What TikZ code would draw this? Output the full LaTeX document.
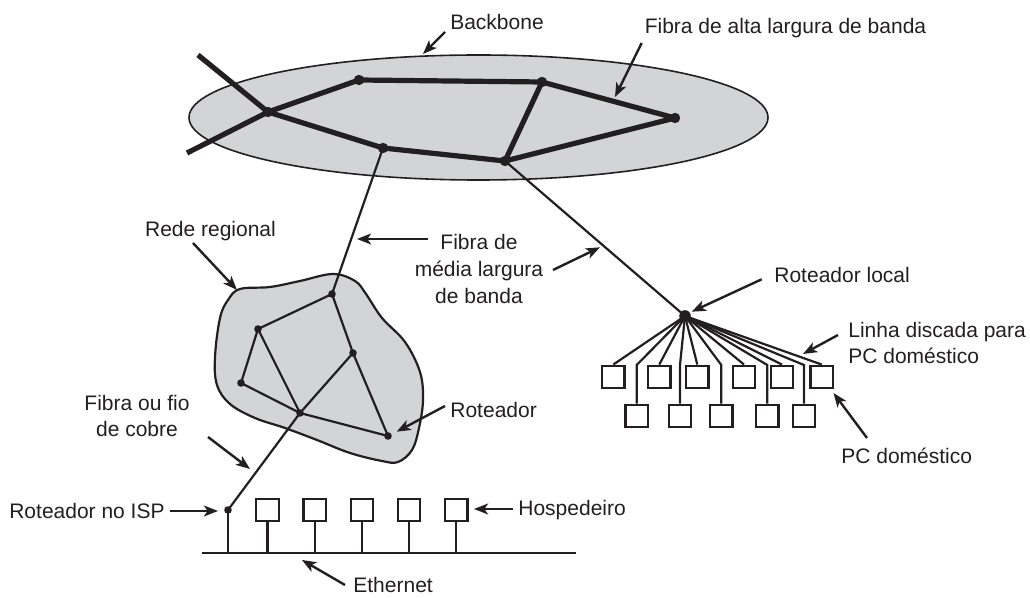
\documentclass[tikz,border=0pt]{standalone}
\usepackage{fontspec}
\setmainfont{Liberation Sans}
\usetikzlibrary{arrows.meta,shapes.geometric}
\definecolor{ink}{RGB}{35,31,32}
\definecolor{cloud}{RGB}{211,212,214}

\begin{document}
\begin{tikzpicture}[
  x=0.5pt, y=-0.5pt,
  every node/.style={font=\fontsize{10.5}{13.3}\selectfont, text=ink},
  lbl/.style={inner sep=0pt, align=center},
  bbdot/.style={circle, fill=ink, inner sep=0pt, minimum size=5.2pt},
  rgdot/.style={circle, fill=ink, inner sep=0pt, minimum size=3.8pt},
  pcbox/.style={draw=ink, line width=1.15pt, fill=white, inner sep=0pt, minimum size=11.3pt},
  fat/.style={line width=2.6pt, draw=ink, line join=round},
  wire/.style={line width=1.1pt, draw=ink},
  callout/.style={-{Stealth[length=7pt,width=5.4pt,inset=1.8pt]}, line width=1.2pt, draw=ink}]
\useasboundingbox (0,0) rectangle (1030,598);

% backbone
\node[ellipse, draw=ink, line width=0.8pt, fill=cloud, minimum width=289.5pt, minimum height=62.5pt, inner sep=0pt] (bbone) at (478.5,117.5) {};
\node[bbdot] (bb1) at (268,112) {};
\node[bbdot] (bb2) at (359,80) {};
\node[bbdot] (bb3) at (542,82) {};
\node[bbdot] (bb4) at (675,118) {};
\node[bbdot] (bb5) at (383,148) {};
\node[bbdot] (bb6) at (505,161) {};
\coordinate (bbx1) at (198,55);
\coordinate (bbx2) at (187,153);
\draw[fat] (bbx1) -- (bb1.center) -- (bb2.center) -- (bb3.center) -- (bb4.center) -- (bb6.center) -- (bb5.center) -- (bb1.center) -- (bbx2);
\draw[fat] (bb3.center) -- (bb6.center);

% rede regional
\draw[ink, line width=1.1pt, fill=cloud] plot[smooth cycle, tension=0.6] coordinates {
  (240,289) (270,287) (300,281) (333,274) (355,281) (366,294) (382,318) (405,342)
  (420,372) (423,400) (419,428) (412,450) (398,462) (382,461) (350,453) (317,440)
  (285,428) (255,418) (230,404) (217,385) (215,357) (220,318) (228,300)};
\node[rgdot] (rg1) at (332,294) {};
\node[rgdot] (rg2) at (258,329) {};
\node[rgdot] (rg3) at (353,353) {};
\node[rgdot] (rg4) at (241,383) {};
\node[rgdot] (rg5) at (300,413) {};
\node[rgdot] (rg6) at (388,436) {};
\draw[wire] (rg1.center) -- (rg2.center) -- (rg4.center) -- (rg5.center) -- (rg6.center) -- (rg3.center) -- (rg1.center);
\draw[wire] (rg2.center) -- (rg5.center) -- (rg3.center);

% roteador local e PCs domesticos
\node[circle, fill=ink, inner sep=0pt, minimum size=5.8pt] (lr) at (685,316) {};
\node[pcbox] (t1) at (613.3,377) {};
\node[pcbox] (t2) at (659.3,377) {};
\node[pcbox] (t3) at (697.3,377) {};
\node[pcbox] (t4) at (744,377) {};
\node[pcbox] (t5) at (782,377) {};
\node[pcbox] (t6) at (821.7,377) {};
\node[pcbox] (b1) at (636.7,416) {};
\node[pcbox] (b2) at (680,416) {};
\node[pcbox] (b3) at (721.3,416) {};
\node[pcbox] (b4) at (767.3,416) {};
\node[pcbox] (b5) at (804,416) {};
\coordinate (bend) at (0,365);
\draw[wire] (lr.center) -- (t1.north);
\draw[wire] (lr.center) -- (t2.north);
\draw[wire] (lr.center) -- (t3.north);
\draw[wire] (lr.center) -- (t4.north);
\draw[wire] (lr.center) -- (t5.north);
\draw[wire] (lr.center) -- (t6.north);
\draw[wire] (lr.center) -- (b1.north |- bend) -- (b1.north);
\draw[wire] (lr.center) -- (b2.north |- bend) -- (b2.north);
\draw[wire] (lr.center) -- (b3.north |- bend) -- (b3.north);
\draw[wire] (lr.center) -- (b4.north |- bend) -- (b4.north);
\draw[wire] (lr.center) -- (b5.north |- bend) -- (b5.north);

% ISP e Ethernet
\node[rgdot] (isp) at (228,510) {};
\node[pcbox] (h1) at (267.5,510) {};
\node[pcbox] (h2) at (314.7,510) {};
\node[pcbox] (h3) at (362,510) {};
\node[pcbox] (h4) at (409,510) {};
\node[pcbox] (h5) at (456.3,510) {};
\coordinate (ethL) at (202,553);
\coordinate (ethR) at (576,553);
\draw[line width=1.3pt, ink] (ethL) -- (ethR);
\draw[line width=1.3pt, ink] (isp.center) -- (isp.center |- ethL);
\draw[wire] (h1.south) -- (h1.south |- ethL);
\draw[wire] (h2.south) -- (h2.south |- ethL);
\draw[wire] (h3.south) -- (h3.south |- ethL);
\draw[wire] (h4.south) -- (h4.south |- ethL);
\draw[wire] (h5.south) -- (h5.south |- ethL);

% fibras de media largura
\draw[wire] (bb5.center) -- (rg1.center);
\draw[wire] (bb6.center) -- (lr.center);
\draw[wire] (rg5.center) -- (isp.center);

% rotulos
\node[lbl] (tbbone) at (497,22) {Backbone};
\coordinate (abb1) at (445,32);  \coordinate (abb2) at (423,54);
\draw[callout] (abb1) -- (abb2);

\node[lbl] (talta) at (785.5,28) {Fibra de alta largura de banda};
\coordinate (aalta1) at (641.7,43); \coordinate (aalta2) at (615,97);
\draw[callout] (aalta1) -- (aalta2);

\node[lbl] (tmedia) at (479,269) {Fibra de\\média largura\\de banda};
\coordinate (amed1) at (428,239); \coordinate (amed2) at (357,239);
\coordinate (amed3) at (553,270); \coordinate (amed4) at (600,247.3);
\draw[callout] (amed1) -- (amed2);
\draw[callout] (amed3) -- (amed4);

\node[lbl] (trede) at (210.5,231) {Rede regional};
\coordinate (arede1) at (193,243); \coordinate (arede2) at (237,290);
\draw[callout] (arede1) -- (arede2);

\node[lbl, anchor=west] (tlocal) at (774,275) {Roteador local};
\coordinate (alocal1) at (761.7,279.3); \coordinate (alocal2) at (691.7,311.7);
\draw[callout] (alocal1) -- (alocal2);

\node[lbl, anchor=west, align=left] (tlinha) at (848,343) {Linha discada para\\PC doméstico};
\coordinate (alinha1) at (838,335); \coordinate (alinha2) at (803,354);
\draw[callout] (alinha1) -- (alinha2);

\node[lbl, anchor=west] (tpc) at (841,456) {PC doméstico};
\coordinate (apc1) at (867,438); \coordinate (apc2) at (833.5,393);
\draw[callout] (apc1) -- (apc2);

\node[lbl, anchor=west] (trot) at (450,410) {Roteador};
\coordinate (arot1) at (445,406); \coordinate (arot2) at (396.7,431.7);
\draw[callout] (arot1) -- (arot2);

\node[lbl] (tcobre) at (137,416) {Fibra ou fio\\de cobre};
\coordinate (acobre1) at (208,437); \coordinate (acobre2) at (250,469);
\draw[callout] (acobre1) -- (acobre2);

\node[lbl, anchor=east] (tisp) at (165,511) {Roteador no ISP};
\coordinate (aisp1) at (170,511); \coordinate (aisp2) at (218,511);
\draw[callout] (aisp1) -- (aisp2);

\node[lbl, anchor=west] (thosp) at (518,510) {Hospedeiro};
\coordinate (ahosp1) at (513,509); \coordinate (ahosp2) at (474,509);
\draw[callout] (ahosp1) -- (ahosp2);

\node[lbl, anchor=north west] (teth) at (353,577) {Ethernet};
\coordinate (aeth1) at (345,585); \coordinate (aeth2) at (302,560);
\draw[callout] (aeth1) -- (aeth2);
\end{tikzpicture}
\end{document}
